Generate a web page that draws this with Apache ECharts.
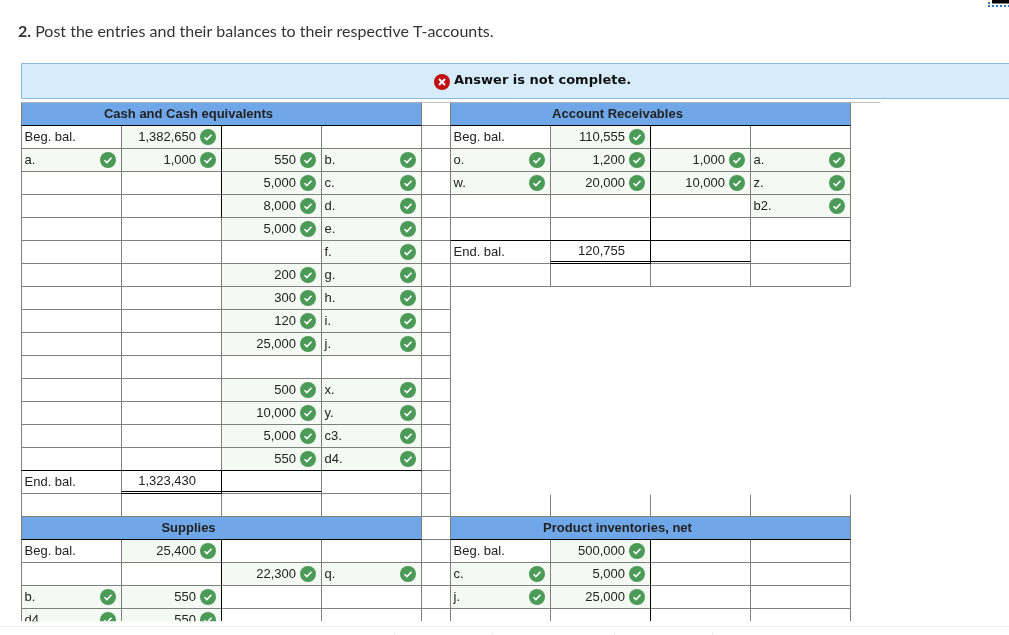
<!DOCTYPE html>
<html>
<head>
<meta charset="utf-8">
<title>T-accounts</title>
<script src="https://cdn.jsdelivr.net/npm/echarts@6/dist/echarts.min.js"></script>
<style>
  html, body { margin: 0; padding: 0; background: #fff; }
  #main { width: 1009px; height: 635px; }
</style>
</head>
<body>
<div id="main"></div>
<script>
// each row: debit label, debit amount, credit amount, credit label
const cashTitle = 'Cash and Cash equivalents';
const cashRows = [
  ['Beg. bal.', '1,382,650', '', ''],
  ['a.', '1,000', '550', 'b.'],
  ['', '', '5,000', 'c.'],
  ['', '', '8,000', 'd.'],
  ['', '', '5,000', 'e.'],
  ['', '', '', 'f.'],
  ['', '', '200', 'g.'],
  ['', '', '300', 'h.'],
  ['', '', '120', 'i.'],
  ['', '', '25,000', 'j.'],
  ['', '', '', ''],
  ['', '', '500', 'x.'],
  ['', '', '10,000', 'y.'],
  ['', '', '5,000', 'c3.'],
  ['', '', '550', 'd4.'],
  ['End. bal.', '1,323,430', '', '']
];
const receivablesTitle = 'Account Receivables';
const receivablesRows = [
  ['Beg. bal.', '110,555', '', ''],
  ['o.', '1,200', '1,000', 'a.'],
  ['w.', '20,000', '10,000', 'z.'],
  ['', '', '', 'b2.'],
  ['', '', '', ''],
  ['End. bal.', '120,755', '', '']
];
const suppliesTitle = 'Supplies';
const suppliesRows = [
  ['Beg. bal.', '25,400', '', ''],
  ['', '', '22,300', 'q.'],
  ['b.', '550', '', ''],
  ['d4.', '550', '', '']
];
const inventoriesTitle = 'Product inventories, net';
const inventoriesRows = [
  ['Beg. bal.', '500,000', '', ''],
  ['c.', '5,000', '', ''],
  ['j.', '25,000', '', '']
];

const GREY = '#808080';
const BLACK = '#000';
const RIGHT = 4.29;      // where the right hand table starts, in columns
const TEXT_FONT = '13px "Liberation Sans"';
const HEAD_FONT = 'bold 13px "Liberation Sans"';

let heads = [];
let cells = [];

function addAccount(title, rows, col, row) {
  heads.push({ title: title, col: col, row: row });
  rows.forEach(function (r, i) {
    let isEnd = r[0] === 'End. bal.';
    r.forEach(function (text, c) {
      if (text === '') return;
      cells.push({
        col: col + c,
        row: row + 1 + i,
        text: text,
        right: c === 1 || c === 2,
        graded: !isEnd && text !== 'Beg. bal.',
        raised: isEnd && c === 1
      });
    });
  });
}
addAccount(cashTitle, cashRows, 0, 0);
addAccount(receivablesTitle, receivablesRows, RIGHT, 0);
addAccount(suppliesTitle, suppliesRows, 0, 18);
addAccount(inventoriesTitle, inventoriesRows, RIGHT, 18);

const ROW_END = 22.55;
let rules = [];
function rule(x0, y0, x1, y1, color) { rules.push([x0, y0, x1, y1, color]); }

for (let k = 0; k <= 22; k++) {
  rule(0, k, RIGHT, k, GREY);
  if (k <= 8 || k >= 18) rule(RIGHT, k, RIGHT + 4, k, GREY);
}
rule(RIGHT + 4, 0, 8.59, 0, GREY);
// outer edges run through the title rows, inner ones stop at them
[0, 4, RIGHT].forEach(function (x) { rule(x, 0, x, ROW_END, GREY); });
rule(RIGHT + 4, 0, RIGHT + 4, 8, GREY);
rule(RIGHT + 4, 17.05, RIGHT + 4, ROW_END, GREY);
for (let c = 1; c <= 3; c++) {
  rule(c, 1, c, 18, GREY);
  rule(c, 19, c, ROW_END, GREY);
  rule(RIGHT + c, 1, RIGHT + c, 8, GREY);
  rule(RIGHT + c, 17.05, RIGHT + c, 18, GREY);
  rule(RIGHT + c, 19, RIGHT + c, ROW_END, GREY);
}
// heavier rules of the T shape and the balance rows
rule(0, 1, 4, 1, BLACK);
rule(RIGHT, 1, RIGHT + 4, 1, BLACK);
rule(0, 19, 4, 19, BLACK);
rule(RIGHT, 19, RIGHT + 4, 19, BLACK);
rule(2, 1, 2, 5, BLACK);
rule(2, 16, 2, 17, BLACK);
rule(2, 19, 2, ROW_END, BLACK);
rule(RIGHT + 2, 1, RIGHT + 2, 7, BLACK);
rule(RIGHT + 2, 19, RIGHT + 2, ROW_END, BLACK);
rule(0, 16, 4, 16, BLACK);
rule(RIGHT, 6, RIGHT + 4, 6, BLACK);
rule(1, 16.913, 3, 16.913, BLACK);
rule(1, 17, 2, 17, BLACK);
rule(RIGHT + 1, 6.913, RIGHT + 3, 6.913, BLACK);
rule(RIGHT + 1, 7, RIGHT + 2, 7, BLACK);

function renderFill(params, api) {
  let isHead = params.dataIndex < heads.length;
  let p0 = api.coord([api.value(0), api.value(1)]);
  let p1 = api.coord([api.value(2), api.value(3)]);
  return {
    type: 'rect',
    shape: { x: p0[0], y: p0[1], width: p1[0] - p0[0], height: p1[1] - p0[1] },
    style: { fill: isHead ? '#6fa7e8' : '#f4f9f3' }
  };
}

function renderRule(params, api) {
  let p0 = api.coord([api.value(0), api.value(1)]);
  let p1 = api.coord([api.value(2), api.value(3)]);
  return {
    type: 'line',
    shape: { x1: p0[0], y1: p0[1], x2: p1[0], y2: p1[1] },
    style: { stroke: rules[params.dataIndex][4], lineWidth: 1 }
  };
}

function renderHead(params, api) {
  let p = api.coord([api.value(0), api.value(1)]);
  return {
    type: 'text',
    style: {
      x: p[0], y: p[1], text: heads[params.dataIndex].title, fill: '#222',
      font: HEAD_FONT, align: 'center', verticalAlign: 'middle'
    }
  };
}

function renderCell(params, api) {
  let cell = cells[params.dataIndex];
  let tl = api.coord([api.value(0), api.value(1)]);
  let br = api.coord([api.value(0) + 1, api.value(1) + 1]);
  let midY = (tl[1] + br[1]) / 2;
  let children = [{
    type: 'text',
    style: {
      x: cell.right ? br[0] - 25.5 : tl[0] + 3,
      y: midY + (cell.raised ? -0.5 : 0.5),
      text: cell.text, fill: '#222', font: TEXT_FONT,
      align: cell.right ? 'right' : 'left', verticalAlign: 'middle'
    }
  }];
  if (cell.graded || (cell.text !== 'Beg. bal.' && !cell.raised && cell.text !== 'End. bal.')) {
    children.push({
      type: 'circle',
      shape: { cx: br[0] - 13.5, cy: midY, r: 8 },
      style: { fill: '#4c9a58' }
    }, {
      type: 'polyline',
      shape: { points: [[br[0] - 17, midY + 0.2], [br[0] - 14.6, midY + 2.6], [br[0] - 10, midY - 2.2]] },
      style: { stroke: '#fff', fill: 'none', lineWidth: 1.6 }
    });
  }
  return { type: 'group', children: children };
}

let fillData = heads.map(function (h) { return [h.col, h.row, h.col + 4, h.row + 1]; })
  .concat(cells.filter(function (c) {
    return c.graded || (c.text !== 'Beg. bal.' && !c.raised && c.text !== 'End. bal.');
  }).map(function (c) {
    return [c.col, c.row, c.col + 1, c.row + 1];
  }));

let chrome = [
  { type: 'rect', shape: { x: 21.5, y: 63.5, width: 990, height: 35 },
    style: { fill: '#d6ecfa', stroke: '#8fb9dc', lineWidth: 1 } },
  { type: 'circle', shape: { cx: 442, cy: 82, r: 8 }, style: { fill: '#c40d12' } },
  { type: 'line', shape: { x1: 439, y1: 79, x2: 445, y2: 85 }, style: { stroke: '#fff', lineWidth: 2 } },
  { type: 'line', shape: { x1: 445, y1: 79, x2: 439, y2: 85 }, style: { stroke: '#fff', lineWidth: 2 } },
  { type: 'text', style: { x: 454, y: 81, text: 'Answer is not complete.', fill: '#111', font: 'bold 13px "DejaVu Sans"', align: 'left', verticalAlign: 'middle' } },
  { type: 'line', shape: { x1: 0, y1: 626.5, x2: 1009, y2: 626.5 }, style: { stroke: '#f0f0f0', lineWidth: 1 } },
  { type: 'rect', shape: { x: 992, y: 0, width: 17, height: 3.5 }, style: { fill: '#000' } },
  { type: 'rect', shape: { x: 988, y: 2, width: 2, height: 2 }, style: { fill: '#2f78c4' } }
];
[394, 492, 614, 712].forEach(function (x) {
  chrome.push({ type: 'line', shape: { x1: x + 0.5, y1: 632, x2: x + 0.5, y2: 635 }, style: { stroke: '#eee', lineWidth: 1 } });
});
for (let x = 988; x <= 1008; x += 4) {
  chrome.push({ type: 'rect', shape: { x: x, y: 5, width: 2, height: 2 }, style: { fill: '#2f78c4' } });
}

let chart = echarts.init(document.getElementById('main'));
chart.setOption({
  backgroundColor: '#fff',
  animation: false,
  title: {
    left: 13, top: 19,
    text: '{b|2.} Post the entries and their balances to their respective T-accounts.',
    textStyle: {
      color: '#333', fontFamily: 'Lato', fontSize: 16, fontWeight: 'normal',
      rich: { b: { fontFamily: 'Lato', fontSize: 16, fontWeight: 'bold', color: '#333' } }
    }
  },
  grid: { left: 21.5, top: 102.5, width: 860, height: 518.65, show: false },
  xAxis: { type: 'value', min: 0, max: 8.6, show: false },
  yAxis: { type: 'value', min: 0, max: ROW_END, inverse: true, show: false },
  graphic: { elements: chrome },
  series: [
    { type: 'custom', name: 'fills', z: 1, clip: true, silent: true,
      renderItem: renderFill, data: fillData },
    { type: 'custom', name: 'rules', z: 2, clip: true, silent: true,
      renderItem: renderRule, data: rules.map(function (r) { return r.slice(0, 4); }) },
    { type: 'custom', name: 'heads', z: 3, clip: true, silent: true,
      renderItem: renderHead, data: heads.map(function (h) { return [h.col + 1.67, h.row + 0.5]; }) },
    { type: 'custom', name: 'cells', z: 3, clip: true, silent: true,
      renderItem: renderCell, data: cells.map(function (c) { return [c.col, c.row]; }) }
  ]
});
</script>
</body>
</html>
